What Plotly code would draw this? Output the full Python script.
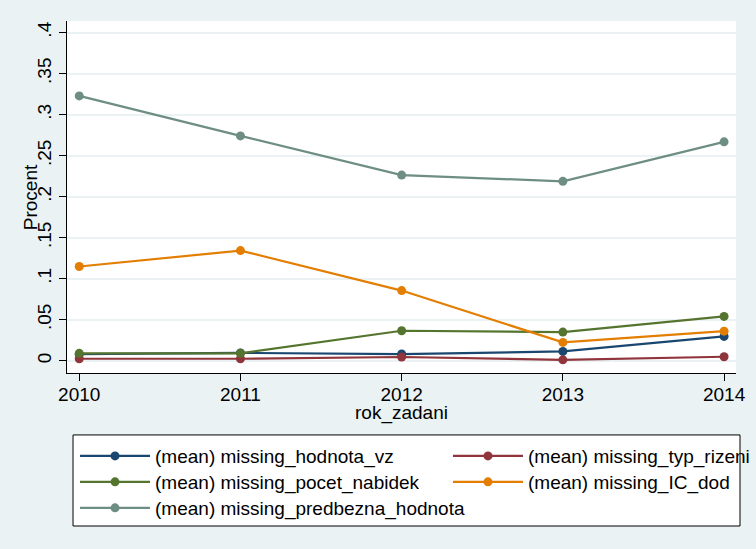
import plotly.graph_objects as go

years = [2010, 2011, 2012, 2013, 2014]
hodnota_vz = [0.008, 0.0095, 0.0081, 0.0113, 0.0296]
typ_rizeni = [0.0024, 0.0024, 0.0045, 0.001, 0.0048]
pocet_nabidek = [0.009, 0.009, 0.0365, 0.0349, 0.054]
ic_dod = [0.1148, 0.1342, 0.0855, 0.0223, 0.036]
predbezna = [0.3228, 0.274, 0.2263, 0.2186, 0.2668]

# (label, values, colour, legend column, legend row)
series = [
    ("(mean) missing_hodnota_vz", hodnota_vz, "#1a476f", 0, 0),
    ("(mean) missing_typ_rizeni", typ_rizeni, "#90353b", 1, 0),
    ("(mean) missing_pocet_nabidek", pocet_nabidek, "#55752f", 0, 1),
    ("(mean) missing_IC_dod", ic_dod, "#e37e00", 1, 1),
    ("(mean) missing_predbezna_hodnota", predbezna, "#6e8e84", 0, 2),
]

ytickvals = [0, 0.05, 0.1, 0.15, 0.2, 0.25, 0.3, 0.35, 0.4]
yticktext = ["0", ".05", ".1", ".15", ".2", ".25", ".3", ".35", ".4"]

bg = "#eaf2f3"
fam = "Liberation Sans, Arial, sans-serif"
font = dict(family=fam, size=19, color="black")

col_x = [0.012, 0.5695]
row_y = [-0.182, -0.2557, -0.3295]

fig = go.Figure()
legends = {}
for i, (name, vals, col, c, r) in enumerate(series):
    lg = "legend" if i == 0 else f"legend{i+1}"
    fig.add_trace(go.Scatter(x=years, y=vals, name=name, mode="lines+markers",
                             line=dict(color=col, width=2.2),
                             marker=dict(color=col, size=9, symbol="circle"),
                             legend=lg))
    legends[lg] = dict(x=col_x[c], y=row_y[r], xanchor="left", yanchor="top",
                       orientation="v", bgcolor="rgba(0,0,0,0)", borderwidth=0,
                       itemwidth=70, font=font)

fig.update_layout(
    width=756, height=549,
    margin=dict(l=67, r=20, t=21, b=176, autoexpand=False),
    paper_bgcolor=bg, plot_bgcolor="white",
    font=font,
    showlegend=True,
    xaxis=dict(range=[2009.924, 2014.074], tickvals=years, ticktext=[str(y) for y in years],
               showgrid=False, zeroline=False, showline=True, linecolor="black", linewidth=1,
               ticks="outside", ticklen=7, tickcolor="black", tickfont=font,
               ticklabelstandoff=-3),
    yaxis=dict(range=[-0.015, 0.4141], tickvals=ytickvals, ticktext=yticktext,
               tickangle=-90, showgrid=True, gridcolor=bg, gridwidth=2, zeroline=False,
               showline=True, linecolor="black", linewidth=1,
               ticks="outside", ticklen=7, tickcolor="black", tickfont=font,
               ticklabelstandoff=0),
    shapes=[dict(type="rect", xref="paper", yref="paper",
                 x0=0.009, x1=1.006, y0=-0.4347, y1=-0.176,
                 fillcolor="white", line=dict(color="black", width=1), layer="below")],
    annotations=[
        dict(text="Procent", x=-0.055, y=0.5, xref="paper", yref="paper",
             textangle=-90, showarrow=False, font=font, xanchor="center", yanchor="middle"),
        dict(text="rok_zadani", x=0.5, y=-0.113, xref="paper", yref="paper",
             showarrow=False, font=font, xanchor="center", yanchor="middle"),
    ],
    **legends,
)
fig.write_html("out.html", config={"displayModeBar": False},
               post_script="document.body.style.margin='0';")
